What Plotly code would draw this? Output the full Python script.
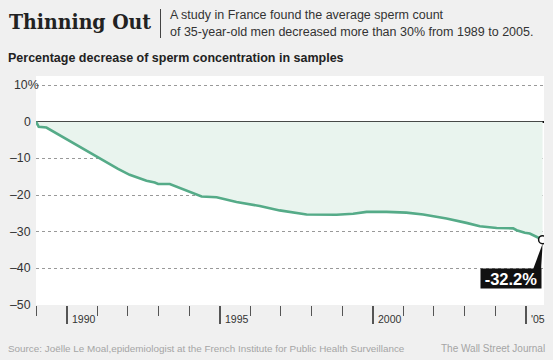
import plotly.graph_objects as go

# ---- data ----
years = [1989.0, 1989.09, 1989.34, 1989.89, 1990.43, 1990.98, 1991.68, 1992.06,
         1992.61, 1992.88, 1992.99, 1993.37, 1993.70, 1994.02, 1994.41, 1994.90,
         1995.55, 1996.31, 1996.96, 1997.84, 1998.82, 1999.36, 1999.80, 2000.45,
         2001.10, 2001.65, 2002.41, 2003.06, 2003.50, 2004.05, 2004.59, 2004.70,
         2004.97, 2005.13, 2005.55]
values = [0, -1.4, -1.6, -4.3, -7.0, -9.7, -12.9, -14.5,
          -16.1, -16.6, -17.0, -17.0, -18.1, -19.0, -20.4, -20.6,
          -21.9, -23.0, -24.2, -25.3, -25.4, -25.1, -24.6, -24.6,
          -24.8, -25.3, -26.4, -27.6, -28.5, -29.0, -29.1, -29.6,
          -30.3, -30.5, -32.2]
y_tick_vals = [10, 0, -10, -20, -30, -40, -50]
y_tick_text = ["10%", "0", "\u201310", "\u201320", "\u201330", "\u201340", "\u201350"]
x_major_vals = [1990, 1995, 2000, 2005]
x_major_text = ["1990", "1995", "2000", "'05"]
end_label = "-32.2%"

# ---- layout geometry (pixels) ----
W, H = 553, 360
L, R, T, B = 36, 544, 76, 305
PW, PH = R - L, B - T

def xp(px):
    return (px - L) / PW

def yp(py):
    return (B - py) / PH

FONT = "Liberation Sans, Arial, sans-serif"
GREEN = "#55ab88"
FILL = "#e9f4ee"
BG = "#f0f0f0"

fig = go.Figure()
fig.add_trace(go.Scatter(
    x=years, y=values, mode="lines", fill="tozeroy", fillcolor=FILL,
    line=dict(color=GREEN, width=2.6), hoverinfo="skip", showlegend=False))
fig.add_trace(go.Scatter(
    x=[years[-1]], y=[values[-1]], mode="markers",
    marker=dict(symbol="circle", size=8, color="white",
                line=dict(color="#111", width=1.5)),
    hoverinfo="skip", showlegend=False))

annotations = []
# y tick labels
for v, t in zip(y_tick_vals, y_tick_text):
    annotations.append(dict(
        x=0, xref="paper", y=v, yref="y", text=t, showarrow=False,
        xanchor="right", yanchor="middle", xshift=(5 if t.endswith("%") else -3),
        font=dict(family=FONT, size=12.3, color="#333")))
# x tick labels
for v, t in zip(x_major_vals, x_major_text):
    annotations.append(dict(
        x=v, xref="x", y=0, yref="paper", text=t, showarrow=False,
        xanchor="left", yanchor="middle", xshift=3, yshift=-14,
        font=dict(family=FONT, size=10.5, color="#333")))
# end label box
annotations.append(dict(
    x=years[-1], y=values[-1], xref="x", yref="y", text="<b>" + end_label + "</b>",
    showarrow=False, xanchor="center", yanchor="middle",
    xshift=-32, yshift=-38.5, bgcolor="#111", width=60, height=19, borderpad=0,
    font=dict(family=FONT, size=16.5, color="white")))
# headings
annotations.append(dict(
    x=xp(7), y=yp(21), xref="paper", yref="paper", text="<b>Thinning Out</b>",
    showarrow=False, xanchor="left", yanchor="middle",
    font=dict(family="DejaVu Serif Condensed, DejaVu Serif, serif", size=21, color="#222")))
annotations.append(dict(
    x=xp(168), y=yp(15), xref="paper", yref="paper",
    text="A study in France found the average sperm count",
    showarrow=False, xanchor="left", yanchor="middle",
    font=dict(family=FONT, size=12.5, color="#333")))
annotations.append(dict(
    x=xp(168), y=yp(31.5), xref="paper", yref="paper",
    text="of 35-year-old men decreased more than 30% from 1989 to 2005.",
    showarrow=False, xanchor="left", yanchor="middle",
    font=dict(family=FONT, size=12.5, color="#333")))
annotations.append(dict(
    x=xp(6), y=yp(57.5), xref="paper", yref="paper",
    text="<b>Percentage decrease of sperm concentration in samples</b>",
    showarrow=False, xanchor="left", yanchor="middle",
    font=dict(family=FONT, size=12.5, color="#222")))
annotations.append(dict(
    x=xp(6), y=yp(348), xref="paper", yref="paper",
    text="Source: Jo\u00eblle Le Moal,epidemiologist at the French Institute for Public Health Surveillance",
    showarrow=False, xanchor="left", yanchor="middle",
    font=dict(family=FONT, size=9.9, color="#a5a5a5")))
annotations.append(dict(
    x=xp(547), y=yp(348), xref="paper", yref="paper",
    text="The Wall Street Journal",
    showarrow=False, xanchor="right", yanchor="middle",
    font=dict(family=FONT, size=10, color="#a5a5a5")))

shapes = [
    # title divider
    dict(type="line", xref="paper", yref="paper", x0=xp(160.5), x1=xp(160.5),
         y0=yp(9), y1=yp(38), line=dict(color="#444", width=1)),
    # pointer wedge from label box to end point
    dict(type="path", xref="x", yref="y", xsizemode="pixel", ysizemode="pixel",
         xanchor=years[-1], yanchor=values[-1],
         path="M 0 -4 L -1.5 -29.5 L -9.5 -29.5 Z",
         fillcolor="#111", line=dict(width=0)),
]

fig.update_layout(
    width=W, height=H,
    margin=dict(l=L, r=W - R, t=T, b=H - B, pad=0),
    paper_bgcolor=BG, plot_bgcolor="white",
    annotations=annotations, shapes=shapes,
    xaxis=dict(range=[1989, 1989 + PW / 30.61], showgrid=False, zeroline=False,
               tickmode="array", tickvals=x_major_vals, ticks="outside",
               ticklen=18, tickwidth=2, tickcolor="#555", showticklabels=False,
               minor=dict(tick0=1989, dtick=1, ticks="outside", ticklen=10,
                          tickwidth=1, tickcolor="#555"),
               showline=False, layer="above traces", fixedrange=True),
    yaxis=dict(range=[-50, -50 + PH / (220 / 60)], tickmode="array",
               tickvals=y_tick_vals, showticklabels=False, ticks="",
               showgrid=True, gridcolor="#999999", gridwidth=1, griddash="dot",
               zeroline=True, zerolinecolor="#111", zerolinewidth=1.5,
               showline=False, layer="above traces", fixedrange=True),
)

fig.write_html(
    "out.html",
    config={"displayModeBar": False},
    post_script="document.body.style.margin='0';document.body.style.overflow='hidden';",
)
